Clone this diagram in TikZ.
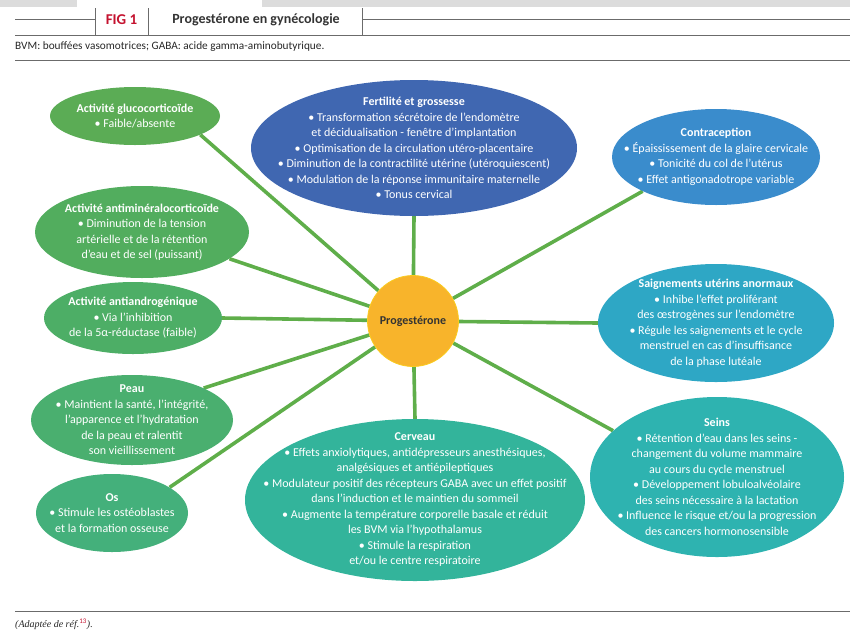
\documentclass[tikz,border=0pt]{standalone}
\usepackage{fontspec}
\setmainfont{Carlito}
\newfontfamily\capserif{Liberation Serif}
\usetikzlibrary{shapes.geometric,backgrounds}
\definecolor{cGluco}{HTML}{5BAC55}
\definecolor{cAntimin}{HTML}{52AD5E}
\definecolor{cAndro}{HTML}{4DAE66}
\definecolor{cPeau}{HTML}{4AAF6F}
\definecolor{cOs}{HTML}{44B07B}
\definecolor{cFert}{HTML}{4067B1}
\definecolor{cContra}{HTML}{3A8CCC}
\definecolor{cSaign}{HTML}{2EA7C5}
\definecolor{cSeins}{HTML}{2EB3B0}
\definecolor{cCerv}{HTML}{33B49B}
\definecolor{cProg}{HTML}{F8B42B}
\definecolor{cLink}{HTML}{5FAE4A}
\definecolor{cRed}{HTML}{C4122F}
\definecolor{cRule}{HTML}{6B6B6B}
\definecolor{cBand}{HTML}{DCDCDC}
\begin{document}
\begin{tikzpicture}[x=1pt,y=-1pt,
  bubble/.style={ellipse, inner sep=0pt, draw=none},
  txt/.style={align=center, text=white, inner sep=0pt, font=\fontsize{12}{15.5}\selectfont},
  link/.style={draw=cLink, line width=3.6pt},
  rule/.style={draw=cRule, line width=0.9pt}]
\useasboundingbox (0,0) rectangle (850,643);
% top band
\fill[cBand] (0,0) rectangle (77,7);
\fill[cBand] (262,0) rectangle (850,7);
% header
\draw[rule] (15,19) -- (95,19);
\draw[rule] (95,8) -- (95,35);
\draw[rule] (148,8) -- (148,35);
\draw[rule] (362,8) -- (362,35);
\draw[rule] (362,19) -- (850,19);
\draw[rule] (15,35) -- (850,35);
\node[text=cRed, font=\fontsize{15}{15}\selectfont\bfseries, inner sep=0pt] (fig) at (121.5,20) {FIG 1};
\node[text=black!80, font=\fontsize{14}{15}\selectfont\bfseries, inner sep=0pt] (title) at (256,20) {Progestérone en gynécologie};
\node[anchor=west, text=black!85, font=\fontsize{11.3}{13}\selectfont, inner sep=0pt] (cap) at (15,47) {BVM: bouffées vasomotrices; GABA: acide gamma-aminobutyrique.};
\draw[rule] (15,60) -- (850,60);
% footer
\draw[rule] (15,611) -- (850,611);
\node[anchor=west, text=black!85, font=\capserif\itshape\fontsize{10}{11}\selectfont, inner sep=0pt] (src) at (15,624) {(Adaptée de réf.\textcolor{cRed}{\textsuperscript{\upshape\rmfamily 13}}).};

% center
\node[circle, fill=cProg, draw=cProg!70!yellow, line width=0.8pt, minimum size=91, inner sep=0pt,
      text=black!80, font=\fontsize{12}{14}\selectfont\bfseries] (prog) at (413,321) {Progestérone};

% bubbles
\node[bubble, fill=cGluco, minimum width=170, minimum height=58] (gluco) at (135,116) {};
\node[bubble, fill=cAntimin, minimum width=214, minimum height=92] (antimin) at (142,232) {};
\node[bubble, fill=cAndro, minimum width=178, minimum height=72] (andro) at (133,318) {};
\node[bubble, fill=cPeau, minimum width=202, minimum height=90] (peau) at (132,420) {};
\node[bubble, fill=cOs, minimum width=152, minimum height=78] (os) at (112,513) {};
\node[bubble, fill=cFert, minimum width=326, minimum height=136] (fert) at (414,148) {};
\node[bubble, fill=cContra, minimum width=208, minimum height=96] (contra) at (716,157) {};
\node[bubble, fill=cSaign, minimum width=236, minimum height=118] (saign) at (716,323) {};
\node[bubble, fill=cSeins, minimum width=254, minimum height=160] (seins) at (717,477) {};
\node[bubble, fill=cCerv, minimum width=340, minimum height=162] (cerv) at (415,500) {};

% connectors
\begin{scope}[on background layer]
\draw[link] (prog) -- (gluco.-16);
\draw[link] (prog) -- (antimin.-17);
\draw[link] (prog) -- (andro.east);
\draw[link] (prog) -- (peau.24);
\draw[link] (prog) -- (os.24);
\draw[link] (prog) -- (fert.south);
\draw[link] (prog) -- (contra.205);
\draw[link] (prog) -- (saign.west);
\draw[link] (prog) -- (seins.156);
\draw[link] (prog) -- (cerv.north);
\end{scope}

% texts
\node[txt] (glucoT) at (gluco) {\textbf{Activité glucocorticoïde}\\• Faible/absente};
\node[txt] (antiminT) at (antimin) {\textbf{Activité antiminéralocorticoïde}\\• Diminution de la tension\\artérielle et de la rétention\\d’eau et de sel (puissant)};
\node[txt] (androT) at (andro) {\textbf{Activité antiandrogénique}\\• Via l’inhibition\\de la 5α-réductase (faible)};
\node[txt] (peauT) at (peau) {\textbf{Peau}\\• Maintient la santé, l’intégrité,\\l’apparence et l’hydratation\\de la peau et ralentit\\son vieillissement};
\node[txt] (osT) at (os) {\textbf{Os}\\• Stimule les ostéoblastes\\et la formation osseuse};
\node[txt] (fertT) at (fert) {\textbf{Fertilité et grossesse}\\• Transformation sécrétoire de l’endomètre\\et décidualisation - fenêtre d’implantation\\• Optimisation de la circulation utéro-placentaire\\• Diminution de la contractilité utérine (utéroquiescent)\\• Modulation de la réponse immunitaire maternelle\\• Tonus cervical};
\node[txt] (contraT) at (contra) {\textbf{Contraception}\\• Épaississement de la glaire cervicale\\• Tonicité du col de l’utérus\\• Effet antigonadotrope variable};
\node[txt] (saignT) at (saign) {\textbf{Saignements utérins anormaux}\\• Inhibe l’effet proliférant\\des œstrogènes sur l’endomètre\\• Régule les saignements et le cycle\\menstruel en cas d’insuffisance\\de la phase lutéale};
\node[txt] (seinsT) at (seins) {\textbf{Seins}\\• Rétention d’eau dans les seins -\\changement du volume mammaire\\au cours du cycle menstruel\\• Développement lobuloalvéolaire\\des seins nécessaire à la lactation\\• Influence le risque et/ou la progression\\des cancers hormonosensible};
\node[txt] (cervT) at (cerv) {\textbf{Cerveau}\\• Effets anxiolytiques, antidépresseurs anesthésiques,\\analgésiques et antiépileptiques\\• Modulateur positif des récepteurs GABA avec un effet positif\\dans l’induction et le maintien du sommeil\\• Augmente la température corporelle basale et réduit\\les BVM via l’hypothalamus\\• Stimule la respiration\\et/ou le centre respiratoire};
\end{tikzpicture}
\end{document}
